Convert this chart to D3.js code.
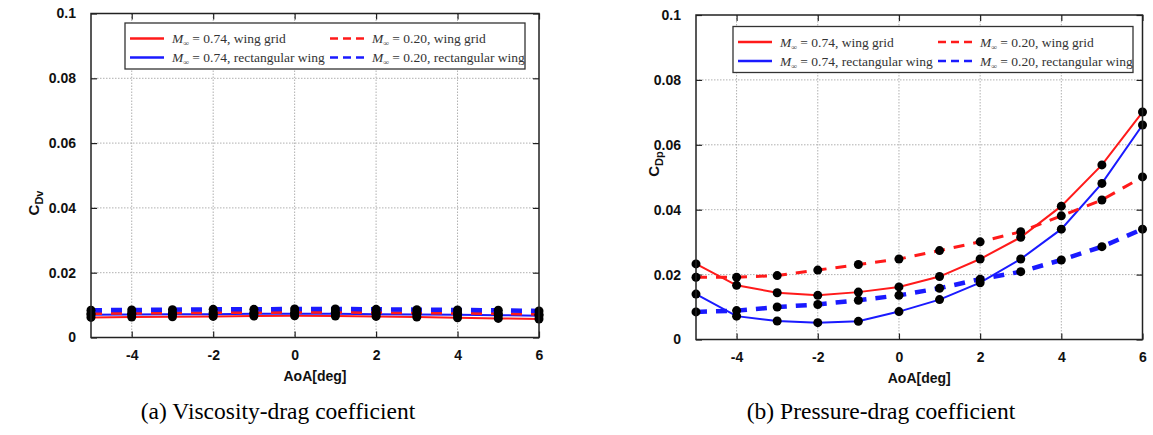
<!DOCTYPE html>
<html>
<head>
<meta charset="utf-8">
<script src="https://cdn.jsdelivr.net/npm/d3@7"></script>
<style>
  body { margin: 0; background: #fff; }
  svg { display: block; }
</style>
</head>
<body>
<svg id="fig" width="1153" height="435"></svg>
<script>
// Angle of attack [deg]
const aoa = [-5, -4, -3, -2, -1, 0, 1, 2, 3, 4, 5, 6];

// Viscosity-drag coefficient C_Dv
const cdvGrid074 = [0.0062, 0.0063, 0.0064, 0.0065, 0.0066, 0.0067, 0.0066, 0.0065, 0.0063, 0.0061, 0.0059, 0.0057];
const cdvRect074 = [0.0070, 0.0071, 0.0072, 0.0072, 0.0073, 0.0073, 0.0073, 0.0072, 0.0071, 0.0070, 0.0069, 0.0067];
const cdvGrid020 = [0.0074, 0.0075, 0.0076, 0.0077, 0.0077, 0.0078, 0.0078, 0.0077, 0.0076, 0.0075, 0.0074, 0.0072];
const cdvRect020 = [0.0084, 0.0085, 0.0086, 0.0087, 0.0087, 0.0088, 0.0088, 0.0087, 0.0086, 0.0085, 0.0084, 0.0082];

// Pressure-drag coefficient C_Dp
const cdpGrid074 = [0.0233, 0.0167, 0.0144, 0.0136, 0.0146, 0.0162, 0.0194, 0.0248, 0.0315, 0.0411, 0.0538, 0.0701];
const cdpRect074 = [0.0140, 0.0072, 0.0057, 0.0052, 0.0056, 0.0086, 0.0123, 0.0175, 0.0248, 0.0340, 0.0481, 0.0661];
const cdpGrid020 = [0.0192, 0.0192, 0.0197, 0.0214, 0.0231, 0.0248, 0.0274, 0.0301, 0.0332, 0.0381, 0.0430, 0.0501];
const cdpRect020 = [0.0085, 0.0089, 0.0100, 0.0108, 0.0121, 0.0136, 0.0158, 0.0186, 0.0209, 0.0245, 0.0286, 0.0340];

// Axis ticks
const xTickValues = [-4, -2, 0, 2, 4, 6];
const xTickLabels = ["-4", "-2", "0", "2", "4", "6"];
const yTickValues = [0, 0.02, 0.04, 0.06, 0.08, 0.1];
const yTickLabels = ["0", "0.02", "0.04", "0.06", "0.08", "0.1"];

// Legend entries
const legendMach = ["0.74", "0.74", "0.20", "0.20"];
const legendWing = ["wing grid", "rectangular wing", "wing grid", "rectangular wing"];

// Line styles per series (order: 0.74 grid, 0.74 rect, 0.20 grid, 0.20 rect)
const seriesStyle = [
  { color: "#ff1a1a", width: 2, dash: null },
  { color: "#1a1aff", width: 2, dash: null },
  { color: "#ff1a1a", width: 3, dash: "11,9" },
  { color: "#1a1aff", width: 4.5, dash: "11,9" }
];

const svg = d3.select("#fig");
const sansFont = "'Liberation Sans', Arial, sans-serif";
const serifFont = "'Liberation Serif', 'Times New Roman', serif";

function drawPanel(cfg) {
  const g = svg.append("g");
  const x = d3.scaleLinear().domain([-5, 6]).range([cfg.left, cfg.right]);
  const y = d3.scaleLinear().domain([0, 0.1]).range([cfg.bottom, cfg.top]);

  // dotted grid
  g.append("g").selectAll("line.vg")
    .data(xTickValues.filter(v => v > -5 && v < 6))
    .join("line")
    .attr("x1", d => x(d)).attr("x2", d => x(d))
    .attr("y1", cfg.top).attr("y2", cfg.bottom)
    .attr("stroke", "#b0b0b0").attr("stroke-width", 1).attr("stroke-dasharray", "1.5,1.5");
  g.append("g").selectAll("line.hg")
    .data(yTickValues.filter(v => v > 0 && v < 0.1))
    .join("line")
    .attr("x1", cfg.left).attr("x2", cfg.right)
    .attr("y1", d => y(d)).attr("y2", d => y(d))
    .attr("stroke", "#b0b0b0").attr("stroke-width", 1).attr("stroke-dasharray", "1.5,1.5");

  // axes with inward ticks, mirrored on top/right
  const styleAxis = (sel, labels) => {
    sel.select(".domain").remove();
    sel.selectAll(".tick line").attr("stroke", "#222").attr("stroke-width", 1.2);
    sel.selectAll(".tick text")
      .attr("font-family", sansFont).attr("font-size", 14).attr("font-weight", "bold")
      .attr("fill", "#111");
    if (!labels) sel.selectAll(".tick text").remove();
  };
  g.append("g").attr("transform", `translate(0,${cfg.bottom})`)
    .call(d3.axisBottom(x).tickValues(xTickValues).tickSize(-6).tickPadding(13)
      .tickFormat((d, i) => xTickLabels[i]))
    .call(s => styleAxis(s, true));
  g.append("g").attr("transform", `translate(0,${cfg.top})`)
    .call(d3.axisTop(x).tickValues(xTickValues).tickSize(-6))
    .call(s => styleAxis(s, false));
  g.append("g").attr("transform", `translate(${cfg.left},0)`)
    .call(d3.axisLeft(y).tickValues(yTickValues).tickSize(-6).tickPadding(15)
      .tickFormat((d, i) => yTickLabels[i]))
    .call(s => styleAxis(s, true));
  g.append("g").attr("transform", `translate(${cfg.right},0)`)
    .call(d3.axisRight(y).tickValues(yTickValues).tickSize(-6))
    .call(s => styleAxis(s, false));

  // series lines
  const line = d3.line().x((d, i) => x(aoa[i])).y(d => y(d));
  cfg.series.forEach((vals, k) => {
    const st = seriesStyle[k];
    g.append("path").datum(vals)
      .attr("d", line)
      .attr("fill", "none")
      .attr("stroke", st.color)
      .attr("stroke-width", st.width)
      .attr("stroke-dasharray", st.dash);
  });

  // data points
  cfg.series.forEach(vals => {
    g.append("g").selectAll("circle")
      .data(vals)
      .join("circle")
      .attr("cx", (d, i) => x(aoa[i]))
      .attr("cy", d => y(d))
      .attr("r", 4.5)
      .attr("fill", "#000");
  });

  // frame
  g.append("rect")
    .attr("x", cfg.left).attr("y", cfg.top)
    .attr("width", cfg.right - cfg.left).attr("height", cfg.bottom - cfg.top)
    .attr("fill", "none").attr("stroke", "#222").attr("stroke-width", 1.5);

  // legend
  const lg = g.append("g").attr("transform", `translate(${cfg.legX},${cfg.legY})`);
  lg.append("rect").attr("width", 400).attr("height", 46)
    .attr("fill", "#fff").attr("stroke", "#333").attr("stroke-width", 1.3);
  legendMach.forEach((m, k) => {
    const col = k < 2 ? 0 : 1;
    const row = k % 2;
    const lx = col === 0 ? 5 : 205;
    const ly = row === 0 ? 15.5 : 34.5;
    const st = seriesStyle[k];
    lg.append("line")
      .attr("x1", lx).attr("x2", lx + 34).attr("y1", ly).attr("y2", ly)
      .attr("stroke", st.color).attr("stroke-width", 2.5)
      .attr("stroke-dasharray", st.dash ? "8,5" : null);
    const t = lg.append("text")
      .attr("x", lx + 42).attr("y", ly + 4.5)
      .attr("font-family", serifFont).attr("font-size", 13.5).attr("fill", "#333");
    t.append("tspan").attr("font-style", "italic").text("M");
    t.append("tspan").attr("font-size", 8).attr("font-style", "italic").attr("dy", 3).text("∞");
    t.append("tspan").attr("dy", -3).text(` = ${m}, ${legendWing[k]}`);
  });

  // axis titles
  svg.append("text")
    .attr("x", (cfg.left + cfg.right) / 2).attr("y", cfg.bottom + 43)
    .attr("text-anchor", "middle")
    .attr("font-family", sansFont).attr("font-size", 14).attr("font-weight", "bold").attr("fill", "#111")
    .text("AoA[deg]");
  const yt = svg.append("text")
    .attr("transform", `translate(${cfg.yTitleX},${cfg.yTitleY}) rotate(-90)`)
    .attr("text-anchor", "middle")
    .attr("font-family", sansFont).attr("font-size", 15).attr("font-weight", "bold").attr("fill", "#111");
  yt.append("tspan").text("C");
  yt.append("tspan").attr("font-size", 11).attr("dy", 4).text(cfg.sub);

  // caption
  svg.append("text")
    .attr("x", cfg.capX).attr("y", 419)
    .attr("text-anchor", "middle")
    .attr("font-family", serifFont).attr("font-size", 23.5).attr("fill", "#000")
    .text(cfg.caption);
}

drawPanel({
  left: 91, right: 539, top: 13.5, bottom: 337.5,
  series: [cdvGrid074, cdvRect074, cdvGrid020, cdvRect020],
  legX: 125, legY: 23,
  yTitleX: 39, yTitleY: 203, sub: "Dv",
  capX: 278, caption: "(a) Viscosity-drag coefficient"
});

drawPanel({
  left: 696, right: 1142.5, top: 15, bottom: 339.5,
  series: [cdpGrid074, cdpRect074, cdpGrid020, cdpRect020],
  legX: 733, legY: 26.5,
  yTitleX: 659, yTitleY: 164, sub: "Dp",
  capX: 881, caption: "(b) Pressure-drag coefficient"
});
</script>
</body>
</html>
